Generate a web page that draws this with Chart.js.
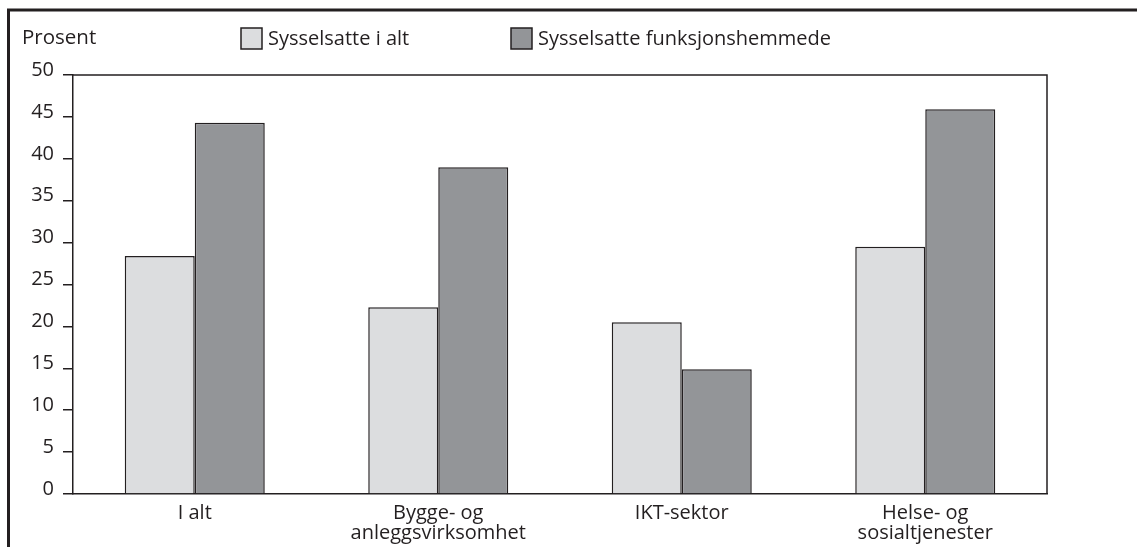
<!DOCTYPE html>
<html>
<head>
<meta charset="utf-8">
<script src="https://cdn.jsdelivr.net/npm/chart.js@4"></script>
<style>
  html, body { margin: 0; padding: 0; background: #ffffff; }
  canvas { display: block; }
</style>
</head>
<body>
<canvas id="c" width="1137" height="547"></canvas>
<script>
const categories = ['I alt', ['Bygge- og', 'anleggsvirksomhet'], 'IKT-sektor', ['Helse- og', 'sosialtjenester']];
const seriesNames = ['Sysselsatte i alt', 'Sysselsatte funksjonshemmede'];
const sysselsatteIAlt = [28.4, 22.3, 20.5, 29.5];
const sysselsatteFunksjonshemmede = [44.3, 39.0, 14.9, 45.9];
const yTicks = [0, 5, 10, 15, 20, 25, 30, 35, 40, 45, 50];
const axisTitle = 'Prosent';

const FONT = '"Open Sans", "Noto Sans", sans-serif';
const INK = '#231f20';
const LIGHT = '#dcdddf';
const DARK = '#939598';

const decor = {
  id: 'decor',
  afterDraw(chart) {
    const ctx = chart.ctx;
    const a = chart.chartArea;
    ctx.save();
    // outer frame (open to right and bottom)
    ctx.strokeStyle = INK;
    ctx.lineWidth = 3;
    ctx.beginPath();
    ctx.moveTo(8.5, 560);
    ctx.lineTo(8.5, 10);
    ctx.lineTo(1150, 10);
    ctx.stroke();
    // plot frame top & right
    ctx.lineWidth = 1.5;
    ctx.beginPath();
    ctx.moveTo(a.left, a.top);
    ctx.lineTo(a.right, a.top);
    ctx.lineTo(a.right, a.bottom);
    ctx.stroke();
    // axis title
    ctx.fillStyle = INK;
    ctx.font = '20.5px ' + FONT;
    ctx.textBaseline = 'alphabetic';
    ctx.textAlign = 'left';
    ctx.fillText(axisTitle, 22, 44);
    // legend
    ctx.font = '20px ' + FONT;
    const boxes = [241, 511];
    chart.data.datasets.forEach((ds, i) => {
      const x = boxes[i];
      ctx.fillStyle = ds.backgroundColor;
      ctx.fillRect(x, 28, 21, 21);
      ctx.strokeStyle = INK;
      ctx.lineWidth = 1.5;
      ctx.strokeRect(x, 28, 21, 21);
      ctx.fillStyle = INK;
      ctx.fillText(ds.label, x + 27, 45);
    });
    ctx.restore();
  }
};

new Chart(document.getElementById('c'), {
  type: 'bar',
  data: {
    labels: categories,
    datasets: [
      { label: seriesNames[0], data: sysselsatteIAlt, backgroundColor: LIGHT, borderColor: INK, borderWidth: 1.5 },
      { label: seriesNames[1], data: sysselsatteFunksjonshemmede, backgroundColor: DARK, borderColor: INK, borderWidth: 1.5 }
    ]
  },
  options: {
    responsive: false,
    animation: false,
    layout: { padding: { top: 75, right: 90, left: 0, bottom: 0 } },
    datasets: { bar: { categoryPercentage: 0.575, barPercentage: 1.0 } },
    plugins: { legend: { display: false }, title: { display: false }, tooltip: { enabled: false } },
    scales: {
      x: {
        grid: { display: false, drawTicks: false },
        border: { display: true, color: INK, width: 1.5 },
        ticks: { color: INK, font: { family: FONT, size: 20, lineHeight: 1.0 }, padding: 9, maxRotation: 0, autoSkip: false },
        afterFit(s) { s.height = 53; }
      },
      y: {
        min: 0, max: 50,
        afterBuildTicks(s) { s.ticks = yTicks.map(v => ({ value: v })); },
        grid: { drawOnChartArea: false, drawTicks: true, tickLength: 10, color: INK, lineWidth: 1.5 },
        border: { display: true, color: INK, width: 1.5 },
        ticks: { color: INK, font: { family: FONT, size: 20 }, padding: 9, labelOffset: -5 },
        afterFit(s) { s.width = 73; }
      }
    }
  },
  plugins: [decor]
});
</script>
</body>
</html>
